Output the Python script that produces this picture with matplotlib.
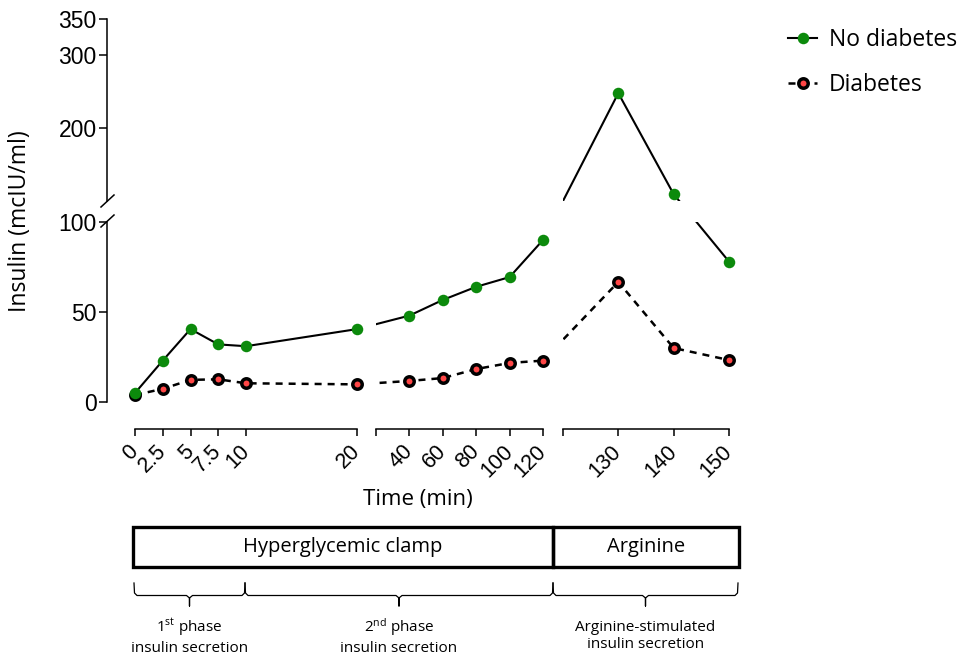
import numpy as np
import matplotlib
matplotlib.use('Agg')
import matplotlib.pyplot as plt
from matplotlib.lines import Line2D
from matplotlib.patches import Rectangle

plt.rcParams['font.family'] = ['Open Sans', 'DejaVu Sans']
plt.rcParams['mathtext.fontset'] = 'custom'
plt.rcParams['mathtext.rm'] = 'Open Sans'
plt.rcParams['mathtext.it'] = 'Open Sans:italic'

# Data
time_min = [0, 2.5, 5, 7.5, 10, 20, 40, 60, 80, 100, 120, 130, 140, 150]
no_diabetes = [5, 23, 40.5, 32, 31, 40.5, 48, 56.7, 64, 69.4, 90, 248, 109, 78]
diabetes = [3.9, 7.3, 12.3, 12.6, 10.4, 9.8, 11.7, 13.3, 18.3, 21.7, 23, 66.7, 30, 23.3]

x_segments = [(0, 20), (20, 120), (120, 150)]
x_ticks = [[0, 2.5, 5, 7.5, 10, 20], [20, 40, 60, 80, 100, 120], [120, 130, 140, 150]]
x_ticklabels = [['0', '2.5', '5', '7.5', '10', '20'],
                ['', '40', '60', '80', '100', '120'],
                ['', '130', '140', '150']]
y_segments = [(0, 100), (100, 350)]
y_ticks = [[0, 50, 100], [200, 300, 350]]

phases = ['Hyperglycemic clamp', 'Arginine']
sub_phases = ['1$^{\\mathrm{st}}$ phase\ninsulin secretion',
              '2$^{\\mathrm{nd}}$ phase\ninsulin secretion',
              'Arginine-stimulated\ninsulin secretion']

GREEN = '#0c8a0c'
RED = '#ff4646'
W, H = 971, 657
EPS = 0.01

# broken axes as one piecewise scale (gaps are tiny data ranges)
T_KNOTS = [0, 20, 20 + EPS, 120, 120 + EPS, 150]
X_PIX = [0, 222, 241, 408, 428, 594]
V_KNOTS = [0, 100, 100 + EPS, 350]
Y_PIX = [0, 180, 201.3, 383]


def piecewise(knots, pixels):
    k = np.asarray(knots, float)
    p = np.asarray(pixels, float)
    s0 = (p[1] - p[0]) / (k[1] - k[0])
    s1 = (p[-1] - p[-2]) / (k[-1] - k[-2])

    def fwd(v):
        v = np.asarray(v, float)
        return np.where(v < k[0], p[0] + (v - k[0]) * s0,
                        np.where(v > k[-1], p[-1] + (v - k[-1]) * s1, np.interp(v, k, p)))

    def inv(u):
        u = np.asarray(u, float)
        return np.where(u < p[0], k[0] + (u - p[0]) / s0,
                        np.where(u > p[-1], k[-1] + (u - p[-1]) / s1, np.interp(u, p, k)))
    return fwd, inv


fig = plt.figure(figsize=(W / 100, H / 100), dpi=100)
ax = fig.add_axes([135 / W, (H - 402) / H, 594 / W, 383 / H])
ax.set_xscale('function', functions=piecewise(T_KNOTS, X_PIX))
ax.set_yscale('function', functions=piecewise(V_KNOTS, Y_PIX))
ax.set_xlim(0, 150)
ax.set_ylim(0, 350)
ax.patch.set_alpha(0)
for s in ax.spines.values():
    s.set_visible(False)
ax.set_xticks([])
ax.set_yticks([])

ax.plot(time_min, diabetes, color='black', lw=1.8, ls=(0, (2.8, 2.4)), zorder=1)
ax.plot(time_min, no_diabetes, color='black', lw=1.5, zorder=1.1)
# hide the lines inside the axis breaks
ax.axvspan(20, 20 + EPS, color='white', lw=0, zorder=2)
ax.axvspan(120, 120 + EPS, color='white', lw=0, zorder=2)
ax.axhspan(100, 100 + EPS, color='white', lw=0, zorder=2)
ax.plot(time_min, diabetes, ls='none', marker='o', ms=6.8, mfc=RED, mec='black',
        mew=2.5, zorder=3, clip_on=False)
ax.plot(time_min, no_diabetes, ls='none', marker='o', ms=8.3, mfc=GREEN, mec=GREEN,
        mew=0, zorder=4, clip_on=False)


def to_fig(x, y):
    px, py = ax.transData.transform((x, y))
    return px / W, py / H


# x axis pieces
base = (H - 429) / H
for i, (a, b) in enumerate(x_segments):
    x0 = to_fig(a + (EPS if a > 0 else 0), 0)[0]
    x1 = to_fig(b, 0)[0]
    xa = fig.add_axes([x0, base, x1 - x0, 0.0001])
    xa.patch.set_alpha(0)
    for side in ['top', 'left', 'right']:
        xa.spines[side].set_visible(False)
    xa.spines['bottom'].set_linewidth(1.1)
    xa.set_xlim(a, b)
    xa.set_yticks([])
    xa.set_xticks(x_ticks[i])
    xa.set_xticklabels(x_ticklabels[i], rotation=45, ha='right', va='center',
                       rotation_mode='anchor', fontsize=15.5, family='Liberation Sans')
    xa.tick_params(axis='x', length=5, width=1.1, pad=9)

# y axis pieces
for i, (a, b) in enumerate(y_segments):
    y0 = to_fig(0, a + (EPS if a > 0 else 0))[1]
    y1 = to_fig(0, b)[1]
    ya = fig.add_axes([107 / W, y0, 0.0001, y1 - y0])
    ya.patch.set_alpha(0)
    for side in ['top', 'bottom', 'right']:
        ya.spines[side].set_visible(False)
    ya.spines['left'].set_linewidth(1.1)
    ya.set_ylim(a, b)
    ya.set_xticks([])
    ya.set_yticks(y_ticks[i])
    ya.set_yticklabels([str(t) for t in y_ticks[i]], fontsize=16.5, family='Liberation Sans')
    ya.tick_params(axis='y', length=6, width=1.1, pad=1.5)

fig.text(20 / W, 1 - 221 / H, 'Insulin (mcIU/ml)', rotation=90, ha='center', va='center',
         fontsize=16.5)
fig.text(418 / W, 1 - 500 / H, 'Time (min)', ha='center', va='center', fontsize=16)

h_nd = Line2D([], [], color='black', lw=1.5, marker='o', ms=8.3, mfc=GREEN, mec=GREEN, mew=0)
h_d = Line2D([], [], color='black', lw=1.8, ls=(0, (2.8, 2.4)), marker='o', ms=6.8,
             mfc=RED, mec='black', mew=2.5)
fig.legend([h_nd, h_d], ['No diabetes', 'Diabetes'], loc='upper left',
           bbox_to_anchor=(767 / W, 1 - 7 / H), frameon=False, fontsize=16.5,
           handlelength=1.3, handletextpad=0.5, labelspacing=0.95, numpoints=1)

# annotation layer in pixel units
ann = fig.add_axes([0, 0, 1, 1], zorder=10)
ann.set_xlim(0, W)
ann.set_ylim(H, 0)
ann.axis('off')
ann.patch.set_alpha(0)

# break marks on the y axis
for yc in [201, 221]:
    ann.plot([101, 114], [yc + 6, yc - 6], color='black', lw=1.1)

box_edges = [133, 553, 739]
for i, name in enumerate(phases):
    ann.add_patch(Rectangle((box_edges[i], 527), box_edges[i + 1] - box_edges[i], 40,
                            fill=False, ec='black', lw=2.4))
    ann.text((box_edges[i] + box_edges[i + 1]) / 2, 547, name, ha='center', va='center',
             fontsize=14.5)

bracket_edges = [134, 245, 553, 738]
for i, label in enumerate(sub_phases):
    l, r = bracket_edges[i], bracket_edges[i + 1]
    m = (l + r) / 2
    ann.plot([l, l + 0.5, l + 3, m - 3, m, m, m, m + 3, r - 3, r - 0.5, r],
             [583, 593, 595.5, 595.5, 598, 606, 598, 595.5, 595.5, 593, 583],
             color='black', lw=0.9)
    ann.text(m, 636, label, ha='center', va='center', fontsize=11, linespacing=1.25)

fig.savefig('out.png', dpi=100)
